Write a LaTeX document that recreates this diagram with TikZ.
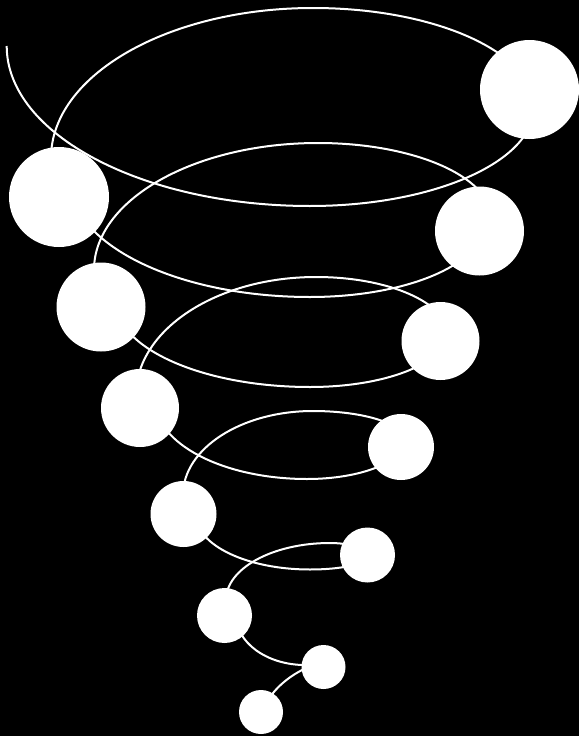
\documentclass[tikz,border=0pt]{standalone}
\begin{document}
\begin{tikzpicture}[x=1pt,y=-1pt,
  spiral/.style={draw=white, line width=2pt},
  ball/.style={circle, fill=white, draw=none, inner sep=0pt, outer sep=0pt}]
\fill[black] (0,0) rectangle (579,736);
\useasboundingbox (0,0) rectangle (579,736);
\coordinate (start) at (6.7,46);
% spiral, turn by turn (quarter ellipses)
\draw[spiral] (start) .. controls (6.7,134.3) and (142.6,206) .. (310,206)
  .. controls (433.6,206) and (534,161.6) .. (534,107);
\draw[spiral] (534,107) .. controls (534,52.4) and (435,8) .. (313,8)
  .. controls (168.4,8) and (51,75.2) .. (51,158);
\draw[spiral] (70,180) .. controls (70,244.6) and (177.5,297) .. (310,297)
  .. controls (405.5,297) and (483,264.7) .. (483,225);
\draw[spiral] (491,218) .. controls (491,176.6) and (413.5,143) .. (318,143)
  .. controls (194.4,143) and (94,199.9) .. (94,270);
\draw[spiral] (115,300) .. controls (115,348) and (202.4,387) .. (310,387)
  .. controls (384.5,387) and (445,363.7) .. (445,335);
\draw[spiral] (448,335) .. controls (448,303) and (388.9,277) .. (316,277)
  .. controls (216.6,277) and (136,329.9) .. (136,395);
\draw[spiral] (155,400) .. controls (155,443.6) and (223.1,479) .. (307,479)
  .. controls (361.1,479) and (405,461.5) .. (405,440);
\draw[spiral] (405,440) .. controls (405,424) and (363.8,411) .. (313,411)
  .. controls (241.2,411) and (183,448.6) .. (183,495);
\draw[spiral] (196,515) .. controls (196,545.1) and (247.1,569.5) .. (310,569.5)
  .. controls (340.4,569.5) and (365,564.3) .. (365,558);
\draw[spiral] (358,550) .. controls (358,546.1) and (345.5,543) .. (330,543)
  .. controls (272.6,543) and (226,568.5) .. (226,600);
\draw[spiral] (236,615) .. controls (236,642.6) and (266.9,665) .. (305,665)
  -- (312,666);
\draw[spiral] (309,667) -- (304,669) .. controls (288,677) and (275,688) .. (266,703);
% balls
\node[ball, minimum size=99pt] (R1) at (529.5,89.5) {};
\node[ball, minimum size=100pt] (L1) at (59,197) {};
\node[ball, minimum size=89pt] (R2) at (479.5,231) {};
\node[ball, minimum size=89pt] (L2) at (101,307) {};
\node[ball, minimum size=78pt] (R3) at (440.5,341) {};
\node[ball, minimum size=78pt] (L3) at (140,408) {};
\node[ball, minimum size=66pt] (R4) at (401,447) {};
\node[ball, minimum size=66pt] (L4) at (183.5,514) {};
\node[ball, minimum size=55pt] (R5) at (367.5,555) {};
\node[ball, minimum size=55pt] (L5) at (224.5,615.5) {};
\node[ball, minimum size=44pt] (R6) at (323.5,667) {};
\node[ball, minimum size=44pt] (L6) at (261,712) {};
\end{tikzpicture}
\end{document}
